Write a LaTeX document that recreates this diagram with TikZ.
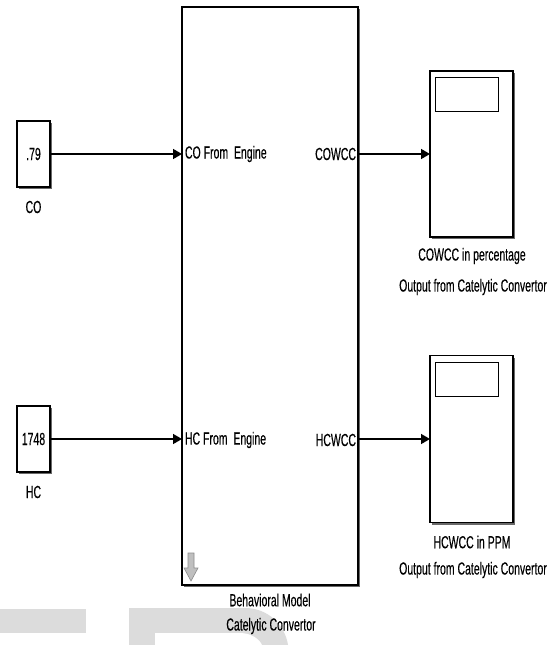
\documentclass[tikz,border=0pt]{standalone}
\usepackage{fontspec}
\setmainfont{Liberation Sans}[FakeStretch=0.6,FakeBold=0.3]
\usetikzlibrary{arrows.meta,shadows}
\definecolor{wm}{HTML}{DCDCDC}
\begin{document}
\begin{tikzpicture}[x=1pt,y=-1pt,
  every node/.style={font=\fontsize{17.5}{19}\selectfont, inner sep=0pt, outer sep=0pt},
  blk/.style={draw=black, line width=1.2pt, fill=white, rectangle,
    drop shadow={shadow xshift=2.2pt, shadow yshift=-2.2pt, fill=black!65, opacity=0.9}},
  innerbox/.style={draw=black, line width=1pt, fill=white, rectangle},
  sig/.style={line width=1.5pt, -{Triangle[length=9pt,width=10pt]}},
  lbl/.style={anchor=center}]
\useasboundingbox (0,0) rectangle (559,645);
% watermark shapes
\fill[wm] (0,609) rectangle (86,633);
\fill[wm] (129,645) -- (129,608) -- (245,608) .. controls (268,608) and (285,625) .. (288,645) -- cycle;
\fill[white] (155,645) -- (155,633) -- (240,633) .. controls (252,633) and (260,640) .. (262,645) -- cycle;
% blocks
\node[blk, minimum width=176pt, minimum height=578pt] (main) at (270,296) {};
\node[blk, minimum width=33pt, minimum height=66pt] (co) at (33.5,154) {.79};
\node[blk, minimum width=33pt, minimum height=66pt] (hc) at (33.5,439) {1748};
\node[blk, minimum width=83pt, minimum height=166pt] (s1) at (471.5,154) {};
\node[blk, minimum width=83pt, minimum height=167pt] (s2) at (471.5,439) {};
\node[innerbox, minimum width=63pt, minimum height=34pt] (s1i) at (466.5,94) {};
\node[innerbox, minimum width=63pt, minimum height=34pt] (s2i) at (466.5,379) {};
% labels
\node (colbl) at (33.5,207) {CO};
\node (hclbl) at (33.5,492) {HC};
\node[anchor=west] (coin) at (185,154) {CO From\ \ Engine};
\node[anchor=west] (hcin) at (185,440) {HC From\ \ Engine};
\node[anchor=east] (coout) at (356,154) {COWCC};
\node[anchor=east] (hcout) at (356,440) {HCWCC};
\node (s1a) at (472,256) {COWCC in percentage};
\node (s1b) at (473,287) {Output from Catelytic Convertor};
\node (s2a) at (472,542) {HCWCC in PPM};
\node (s2b) at (473,570) {Output from Catelytic Convertor};
\node (ma) at (270,600) {Behavioral Model};
\node (mb) at (271,626) {Catelytic Convertor};
% grey down arrow
\filldraw[fill=black!25, draw=black!45, line width=0.6pt]
  (188,553) -- (194,553) -- (194,568) -- (198,568) -- (191,581) -- (184,568) -- (188,568) -- cycle;
% connectors
\draw[sig] (co.east) -- (co.east -| main.west);
\draw[sig] (hc.east) -- (hc.east -| main.west);
\draw[sig] (s1.west -| main.east) -- (s1.west);
\draw[sig] (s2.west -| main.east) -- (s2.west);
\end{tikzpicture}
\end{document}
